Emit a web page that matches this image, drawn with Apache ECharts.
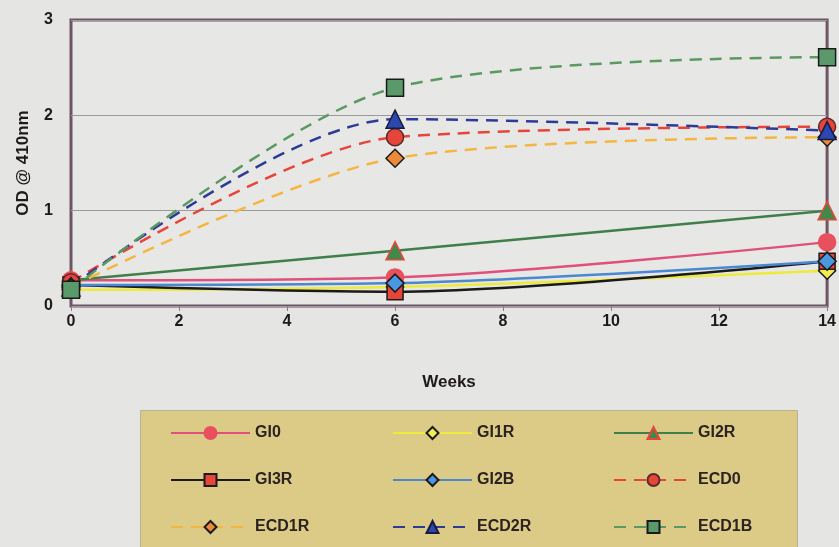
<!DOCTYPE html>
<html>
<head>
<meta charset="utf-8">
<script src="https://cdn.jsdelivr.net/npm/echarts@6/dist/echarts.min.js"></script>
<style>
html,body{margin:0;padding:0;background:#e5e5e3;}
#c{width:839px;height:547px;}
</style>
</head>
<body>
<div id="c"></div>
<script>
var weeks = [0, 6, 14];
var xTicks = [0, 2, 4, 6, 8, 10, 12, 14];
var yTicks = [0, 1, 2, 3];
var GI0   = [0.27, 0.30, 0.67];
var GI1R  = [0.17, 0.20, 0.37];
var GI2R  = [0.27, 0.58, 1.00];
var GI3R  = [0.22, 0.15, 0.47];
var GI2B  = [0.22, 0.24, 0.47];
var ECD0  = [0.25, 1.77, 1.88];
var ECD1R = [0.20, 1.55, 1.77];
var ECD2R = [0.20, 1.96, 1.84];
var ECD1B = [0.17, 2.29, 2.61];

function pts(vals){ return weeks.map(function(w,i){ return [w, vals[i]]; }); }

function mk(name, vals, lineColor, dashed, symbol, fill, border, size){
  return {
    name: name, type: 'line', data: pts(vals), smooth: 0.3,
    symbol: symbol, symbolSize: size || 16,
    lineStyle: {color: lineColor, width: 2.5, type: dashed ? [12, 8] : 'solid'},
    itemStyle: {color: fill, borderColor: border, borderWidth: 1.5},
    emphasis: {disabled: true}
  };
}

var series = [
  mk('GI0',   GI0,   '#e0507a', false, 'circle',   '#e8505e', '#e8505e', 17),
  mk('GI1R',  GI1R,  '#eeea3a', false, 'diamond',  '#f4ec50', '#1a1a1a', 17),
  mk('GI2R',  GI2R,  '#3f7f4a', false, 'triangle', '#3f8a4a', '#e8453a', 18),
  mk('GI3R',  GI3R,  '#1a1a1a', false, 'rect',     '#e8453a', '#1a1a1a', 16),
  mk('GI2B',  GI2B,  '#4a88d0', false, 'diamond',  '#4a98e0', '#1a1a1a', 18),
  mk('ECD0',  ECD0,  '#e8453a', true,  'circle',   '#e8453a', '#5a2a2a', 17),
  mk('ECD1R', ECD1R, '#f4b640', true,  'diamond',  '#ec8a3a', '#1a1a1a', 18),
  mk('ECD2R', ECD2R, '#2e3a98', true,  'triangle', '#2a48b0', '#1a1a3a', 18),
  mk('ECD1B', ECD1B, '#5a9a62', true,  'rect',     '#5a9a6a', '#1a1a1a', 17)
];

var legendText = {fontFamily: 'Liberation Sans', fontWeight: 'bold', fontSize: 16, color: '#2b2322'};
function leg(names, left){
  return {
    data: names, orient: 'vertical', left: left, top: 425, padding: 0,
    itemWidth: 79, itemHeight: 15, itemGap: 31,
    textStyle: legendText, selectedMode: false
  };
}

var chart = echarts.init(document.getElementById('c'), null, {renderer: 'canvas'});
chart.setOption({
  backgroundColor: '#e5e5e3',
  animation: false,
  graphic: [{
    type: 'rect', left: 140, top: 410, z: -1,
    shape: {width: 657, height: 140},
    style: {fill: '#dccb86', stroke: '#b8b09a', lineWidth: 1}
  }],
  grid: {left: 71, right: 10, top: 20, bottom: 241, show: true,
         borderColor: '#6e5566', borderWidth: 3, backgroundColor: '#e7e7e5'},
  legend: [
    leg(['GI0', 'GI3R', 'ECD1R'], 170),
    leg(['GI1R', 'GI2B', 'ECD2R'], 392),
    leg(['GI2R', 'ECD0', 'ECD1B'], 613)
  ],
  xAxis: {
    type: 'value', min: xTicks[0], max: xTicks[xTicks.length - 1], interval: 2,
    name: 'Weeks', nameLocation: 'middle', nameGap: 68,
    nameTextStyle: {fontFamily: 'Liberation Sans', fontWeight: 'bold', fontSize: 17, color: '#1e1a1a'},
    axisLine: {show: false},
    axisTick: {show: true, length: 5, lineStyle: {color: '#8a7a84'}},
    splitLine: {show: false},
    axisLabel: {fontFamily: 'Liberation Sans', fontWeight: 'bold', fontSize: 16, color: '#1e1a1a', margin: 8}
  },
  yAxis: {
    type: 'value', min: yTicks[0], max: yTicks[yTicks.length - 1], interval: 1,
    name: 'OD @ 410nm', nameLocation: 'middle', nameGap: 39,
    nameTextStyle: {fontFamily: 'Liberation Sans', fontWeight: 'bold', fontSize: 17, color: '#1e1a1a'},
    axisLine: {show: false},
    axisTick: {show: false},
    splitLine: {show: true, lineStyle: {color: '#9a9a9a', width: 1}},
    axisLabel: {fontFamily: 'Liberation Sans', fontWeight: 'bold', fontSize: 16, color: '#1e1a1a', margin: 18}
  },
  series: series
});
</script>
</body>
</html>
